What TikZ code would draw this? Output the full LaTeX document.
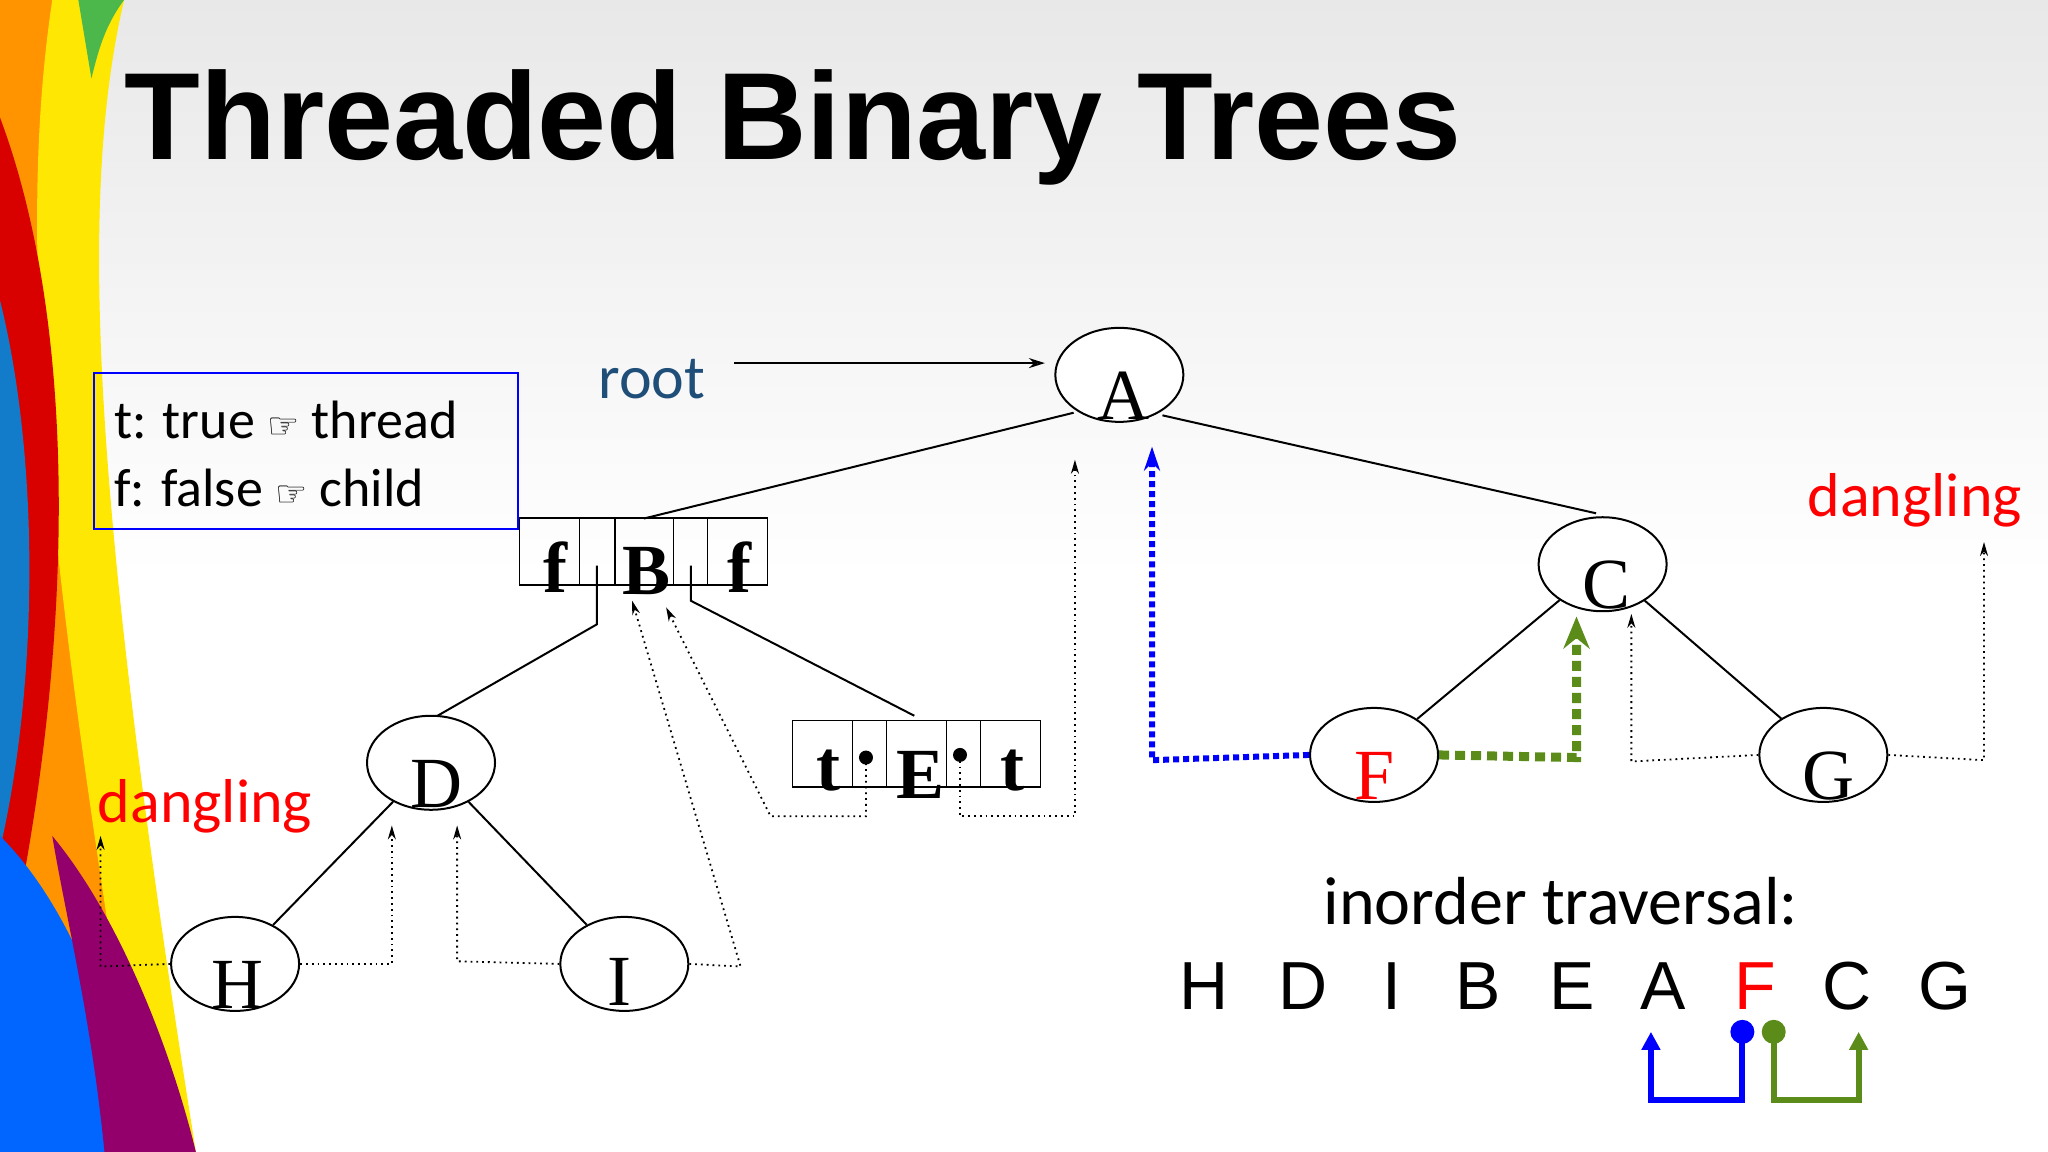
\documentclass[tikz,border=0pt]{standalone}
\usepackage{fontspec}
\setmainfont{Liberation Serif}
\newfontfamily\calfont{Carlito}
\newfontfamily\hvfont{Liberation Sans}
\newfontfamily\djfont{DejaVu Sans}
\usetikzlibrary{arrows.meta,shapes.geometric}
\definecolor{rootblue}{HTML}{1F4E79}
\definecolor{dgreen}{HTML}{5B8C1A}
\begin{document}
\begin{tikzpicture}[x=0.653pt,y=-0.653pt,
  nd/.style={draw,ellipse,line width=1pt,minimum width=64pt,minimum height=47pt,fill=white},
  lt/.style={font=\fontsize{36}{40}\selectfont,inner sep=0},
  bl/.style={font=\fontsize{36}{40}\selectfont\bfseries,inner sep=0},
  ed/.style={line width=1pt},
  th/.style={line width=0.9pt,dotted,-{Stealth[length=7pt,width=4pt]}},
  cell/.style={draw,line width=0.9pt,minimum height=33.3pt,inner sep=0,anchor=north west}]
% background
\shade[top color=gray!18,bottom color=white,middle color=white] (0,0) rectangle (1568,882);
\useasboundingbox (0,0) rectangle (1568,882);
% left swooshes
\fill[orange!85!yellow] (0,0) -- (60,0) .. controls (20,200) and (40,400) .. (120,882) -- (0,882) -- cycle;
\fill[yellow!90!orange] (40,0) -- (95,0) .. controls (60,150) and (70,380) .. (150,882) -- (110,882) .. controls (40,450) and (10,200) .. (40,0);
\fill[red!85!black] (0,90) .. controls (60,250) and (60,500) .. (0,760) -- cycle;
\fill[cyan!60!blue] (0,230) .. controls (30,350) and (30,520) .. (0,650) -- cycle;
\fill[blue!60!cyan] (0,640) .. controls (60,700) and (90,800) .. (110,882) -- (0,882) -- cycle;
\fill[violet!70!purple] (40,640) .. controls (90,700) and (130,800) .. (150,882) -- (80,882) .. controls (70,780) and (50,700) .. (40,640);
\fill[green!60!black!70] (60,0) -- (95,0) .. controls (80,20) and (75,40) .. (70,60) -- cycle;
% title
\node[anchor=base west,inner sep=0,font=\hvfont\bfseries\fontsize{62}{66}\selectfont] (title) at (95,122) {Threaded Binary Trees};
% legend
\node[draw=blue,line width=1pt,minimum width=212pt,minimum height=78pt,anchor=north west] (leg) at (71,285) {};
\node[anchor=base west,inner sep=0,font=\calfont\fontsize{27}{30}\selectfont] (l1) at (87,336) {t: true {\djfont\fontsize{18}{20}\selectfont ☞} thread};
\node[anchor=base west,inner sep=0,font=\calfont\fontsize{27}{30}\selectfont] (l2) at (87,388) {f: false {\djfont\fontsize{18}{20}\selectfont ☞} child};
% root
\node[font=\calfont\fontsize{31}{34}\selectfont,text=rootblue,inner sep=0] (root) at (499,290) {root};
\coordinate (rs) at (562,278); \coordinate (re) at (800,278);
\draw[ed,-{Stealth[length=8pt,width=5pt,open]}] (rs) -- (re);
% nodes
\node[nd] (A) at (857,287) {}; \node[lt] (Al) at (860,303) {A};
\node[nd] (C) at (1227,432) {}; \node[lt] (Cl) at (1230,448) {C};
\node[nd] (F) at (1052,578) {}; \node[lt,text=red] (Fl) at (1052,594) {F};
\node[nd] (G) at (1396,578) {}; \node[lt] (Gl) at (1400,594) {G};
\node[nd] (D) at (330,584) {}; \node[lt] (Dl) at (334,600) {D};
\node[nd] (H) at (180,738) {}; \node[lt] (Hl) at (182,754) {H};
\node[nd] (I) at (478,738) {}; \node[lt] (Il) at (474,752) {I};
% record B
\node[cell,minimum width=30pt] (b1) at (397,396) {};
\node[cell,minimum width=17.6pt] (b2) at (443,396) {};
\node[cell,minimum width=29.4pt] (b3) at (470,396) {};
\node[cell,minimum width=17pt] (b4) at (515,396) {};
\node[cell,minimum width=30pt] (b5) at (541,396) {};
\node[bl] (bf1) at (425,434) {f}; \node[bl] (bB) at (495,437) {B}; \node[bl] (bf2) at (566,434) {f};
% record E
\node[cell,minimum width=30pt] (e1) at (606,551) {};
\node[cell,minimum width=17pt] (e2) at (652,551) {};
\node[cell,minimum width=30pt] (e3) at (678,551) {};
\node[cell,minimum width=17pt] (e4) at (724,551) {};
\node[cell,minimum width=30pt] (e5) at (750,551) {};
\node[bl] (et1) at (634,590) {t}; \node[bl] (eE) at (705,593) {E}; \node[bl] (et2) at (775,590) {t};
\fill (663,580) circle (3.5pt); \fill (735,578) circle (3.5pt);
% coordinates
\coordinate (aB) at (822,316); \coordinate (Bt) at (493,397);
\coordinate (aC) at (890,318); \coordinate (Ct) at (1222,393);
\coordinate (bp1) at (457,433); \coordinate (bp1b) at (457,478); \coordinate (Dt) at (335,548);
\coordinate (bp2) at (529,433); \coordinate (bp2b) at (529,460); \coordinate (Et) at (700,548);
% edges
\draw[ed] (aB) -- (Bt);
\draw[ed] (aC) -- (Ct);
\draw[ed] (bp1) -- (bp1b) -- (Dt);
\draw[ed] (bp2) -- (bp2b) -- (Et);
\draw[ed] (C) -- (F);
\draw[ed] (C) -- (G);
\draw[ed] (D) -- (H);
\draw[ed] (D) -- (I);
% threads
\draw[th] (H.west) -- (77,740) -- (77,640);
\draw[th] (H.east) -- (300,738) -- (300,632);
\draw[th] (I.west) -- (350,736) -- (350,632);
\draw[th] (I.east) -- (567,740) -- (484,460);
\draw[th] (663,580) -- (663,625) -- (590,625) -- (510,465);
\draw[th] (735,578) -- (735,625) -- (823,625) -- (823,352);
\draw[th] (G.west) -- (1249,583) -- (1249,470);
\draw[th] (G.east) -- (1519,582) -- (1519,415);
\draw[blue,line width=3pt,dotted,-{Stealth[length=12pt,width=8pt]}] (F.west) -- (882,582) -- (882,342);
\draw[dgreen,line width=4.5pt,dash pattern=on 5pt off 3pt,-{Stealth[length=16pt,width=13pt]}] (F.east) -- (1207,580) -- (1207,472);
% dangling
\node[font=\calfont\fontsize{31}{34}\selectfont,text=red,inner sep=0] (dg1) at (157,617) {dangling};
\node[font=\calfont\fontsize{31}{34}\selectfont,text=red,inner sep=0] (dg2) at (1466,383) {dangling};
% inorder
\node[font=\calfont\fontsize{34}{38}\selectfont,inner sep=0] (io) at (1195,690) {inorder traversal:};
\foreach \t/\x/\c in {H/922/black,D/998/black,I/1066/black,B/1132/black,E/1204/black,A/1273/black,F/1344/red,C/1414/black,G/1489/black}
  \node[font=\hvfont\fontsize{34}{38}\selectfont,text=\c,inner sep=0] (s\t) at (\x,755) {\t};
\draw[blue,line width=3pt,-{Triangle[length=9pt,width=9pt]}] (1334,790) -- (1334,842) -- (1264,842) -- (1264,790);
\fill[blue] (1334,790) circle (6pt);
\draw[dgreen,line width=3pt,-{Triangle[length=9pt,width=9pt]}] (1358,790) -- (1358,842) -- (1423,842) -- (1423,790);
\fill[dgreen] (1358,790) circle (6pt);
\end{tikzpicture}
\end{document}
